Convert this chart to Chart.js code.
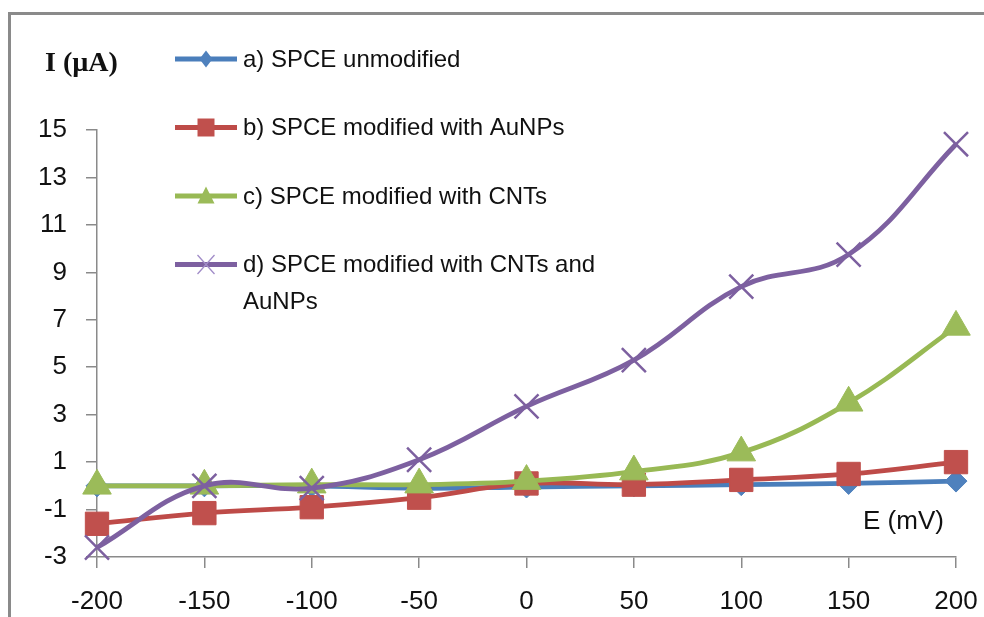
<!DOCTYPE html>
<html>
<head>
<meta charset="utf-8">
<title>I-E curves SPCE</title>
<script src="https://cdn.jsdelivr.net/npm/chart.js@4.4.0/dist/chart.umd.min.js"></script>
<style>
  html, body { margin: 0; padding: 0; background: #fff; }
  #wrap { position: relative; width: 984px; height: 617px; overflow: hidden; background: #fff; }
  #frame { position: absolute; left: 8px; top: 12px; width: 1200px; height: 900px;
           border-left: 3px solid #8a8a8a; border-top: 3px solid #8a8a8a; }
  #ieChart { position: absolute; left: 0; top: 0; }
</style>
</head>
<body>
<div id="wrap">
  <div id="frame"></div>
  <canvas id="ieChart" width="984" height="617"></canvas>
</div>
<script>
// E (mV) values on the x axis
const potentials = ['-200', '-150', '-100', '-50', '0', '50', '100', '150', '200'];

// I (uA)
const unmodified    = [0.0, 0.0, 0.0, -0.1, -0.05, 0.0, 0.05, 0.1, 0.2];
const withAuNPs     = [-1.6, -1.15, -0.9, -0.5, 0.1, 0.05, 0.25, 0.5, 1.0];
const withCNTs      = [0.0, 0.0, 0.05, 0.05, 0.2, 0.6, 1.4, 3.5, 6.7];
const withCNTsAuNPs = [-2.6, 0.0, -0.1, 1.1, 3.35, 5.3, 8.4, 9.75, 14.4];

const currentTicks = [-3, -1, 1, 3, 5, 7, 9, 11, 13, 15];

const legendLines = [
  ['a) SPCE unmodified'],
  ['b) SPCE modified with AuNPs'],
  ['c) SPCE modified with CNTs'],
  ['d) SPCE modified with CNTs and', 'AuNPs']
];

const FONT = '"Liberation Sans", Arial, sans-serif';
const axisGray = '#8a8a8a';

function drawLegendMarker(ctx, style, color, x, y) {
  ctx.fillStyle = color;
  ctx.strokeStyle = color;
  ctx.beginPath();
  if (style === 'rectRot') {
    ctx.moveTo(x, y - 8.5);
    ctx.lineTo(x + 6.5, y);
    ctx.lineTo(x, y + 8.5);
    ctx.lineTo(x - 6.5, y);
    ctx.closePath();
    ctx.fill();
  } else if (style === 'rect') {
    ctx.rect(x - 8.5, y - 9, 17, 18);
    ctx.fill();
  } else if (style === 'triangle') {
    ctx.moveTo(x, y - 9.5);
    ctx.lineTo(x + 8.5, y + 7.5);
    ctx.lineTo(x - 8.5, y + 7.5);
    ctx.closePath();
    ctx.fill();
  } else {
    ctx.strokeStyle = '#a18cc8';
    ctx.lineWidth = 1.3;
    ctx.moveTo(x - 8.5, y - 9.5);
    ctx.lineTo(x + 8.5, y + 9.5);
    ctx.moveTo(x + 8.5, y - 9.5);
    ctx.lineTo(x - 8.5, y + 9.5);
    ctx.stroke();
  }
}

// legend inside the plot and the two axis titles
const overlayText = {
  id: 'overlayText',
  afterDraw(chart) {
    const ctx = chart.ctx;
    ctx.save();
    chart.data.datasets.forEach((ds, i) => {
      const y = 59 + i * 68.5;
      ctx.strokeStyle = ds.borderColor;
      ctx.lineWidth = 5;
      ctx.lineCap = 'butt';
      ctx.beginPath();
      ctx.moveTo(175, y);
      ctx.lineTo(237, y);
      ctx.stroke();
      drawLegendMarker(ctx, ds.pointStyle, ds.pointBackgroundColor, 206, y);

      ctx.fillStyle = '#111';
      ctx.font = '24px ' + FONT;
      ctx.textAlign = 'left';
      ctx.textBaseline = 'middle';
      legendLines[i].forEach((line, j) => {
        ctx.fillText(line, 243, y + 1 + j * 37);
      });
    });

    ctx.fillStyle = '#111';
    ctx.font = 'bold 28px "Liberation Serif", "Times New Roman", serif';
    ctx.textBaseline = 'middle';
    ctx.fillText('I (\u00b5A)', 45, 64);

    ctx.font = '26px ' + FONT;
    ctx.fillText('E (mV)', 863, 522);
    ctx.restore();
  }
};

function series(label, values, color, lineColor, style, radius, order) {
  return {
    label: label,
    data: values,
    borderColor: lineColor,
    borderWidth: 4.8,
    pointStyle: style,
    pointRadius: radius,
    pointBackgroundColor: color,
    pointBorderColor: style === 'crossRot' ? lineColor : color,
    pointBorderWidth: style === 'crossRot' ? 2.5 : 1,
    tension: 0.4,
    fill: false,
    clip: false,
    order: order
  };
}

const ctx = document.getElementById('ieChart').getContext('2d');

new Chart(ctx, {
  type: 'line',
  data: {
    labels: potentials,
    datasets: [
      series(legendLines[0].join(' '), unmodified, '#4F81BD', '#4A7EBB', 'rectRot', 11, 3),
      series(legendLines[1].join(' '), withAuNPs, '#C0504D', '#BE4B48', 'rect', 16.5, 2),
      series(legendLines[2].join(' '), withCNTs, '#9BBB59', '#98B954', 'triangle', 16.5, 1),
      series(legendLines[3].join(' '), withCNTsAuNPs, '#8064A2', '#7D60A0', 'crossRot', 17, 0)
    ]
  },
  options: {
    responsive: false,
    animation: false,
    events: [],
    layout: { padding: { left: 0, right: 28, top: 130, bottom: 0 } },
    plugins: {
      legend: { display: false },
      tooltip: { enabled: false }
    },
    scales: {
      x: {
        type: 'category',
        offset: false,
        afterFit: scale => {
          scale.height = 60;
          scale.paddingLeft = 0;
          scale.paddingRight = 0;
        },
        grid: { drawOnChartArea: false, drawTicks: true, tickLength: 11, color: axisGray, lineWidth: 1.5 },
        border: { display: true, color: axisGray, width: 1.5 },
        ticks: {
          autoSkip: false,
          maxRotation: 0,
          padding: 18,
          color: '#111',
          font: { family: FONT, size: 26 }
        }
      },
      y: {
        min: -3,
        max: 15,
        afterFit: scale => {
          scale.width = 97;
          scale.paddingTop = 0;
          scale.paddingBottom = 0;
        },
        afterBuildTicks: scale => { scale.ticks = currentTicks.map(v => ({ value: v })); },
        grid: { drawOnChartArea: false, drawTicks: true, tickLength: 11, color: axisGray, lineWidth: 1.5 },
        border: { display: true, color: axisGray, width: 1.5 },
        ticks: {
          padding: 19,
          color: '#111',
          font: { family: FONT, size: 26 }
        }
      }
    }
  },
  plugins: [overlayText]
});
</script>
</body>
</html>
